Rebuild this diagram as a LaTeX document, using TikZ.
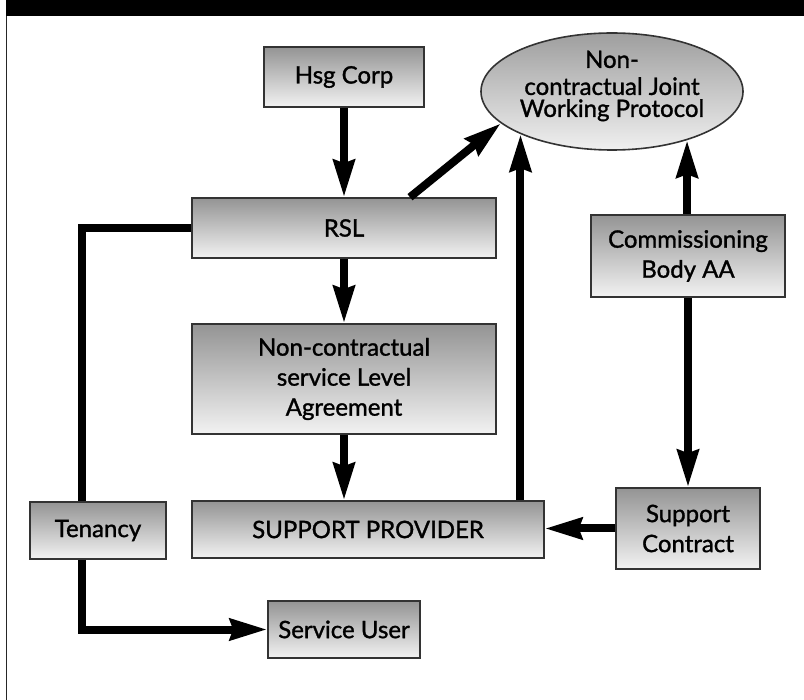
\documentclass[tikz,border=0pt]{standalone}
\usepackage{fontspec}
\setmainfont{Lato}
\newfontfamily\labelfont{Lato}[FakeBold=1.3]
\usetikzlibrary{arrows.meta,shapes.geometric}

\begin{document}
\begin{tikzpicture}[x=1pt,y=-1pt,
  txt/.style={font=\labelfont\fontsize{24}{30}\selectfont},
  box/.style={txt, draw=black!80, line width=1.6pt, top color=black!42, bottom color=black!5,
    inner sep=0pt, align=center},
  bubble/.style={ellipse, draw=black!80, line width=1.6pt, top color=black!38, bottom color=black!6,
    inner sep=0pt},
  conn/.style={line width=8pt, draw=black},
  arr/.style={conn, -{Stealth[length=37pt,width=21pt,inset=3pt]}},
]
\useasboundingbox (0,0) rectangle (804,700);

% page frame: black header band and left rule
\fill[black] (6,0) rectangle (804,16.5);
\draw[line width=1.5pt, black!85] (6.5,16) -- (6.5,700);

% boxes
\node[box, minimum width=160, minimum height=60] (hsg) at (344,77) {Hsg Corp};
\node[box, minimum width=304, minimum height=60] (rsl) at (344,228) {RSL};
\node[box, minimum width=304, minimum height=110] (sla) at (344,379) {Non-contractual\\service Level\\Agreement};
\node[box, minimum width=352, minimum height=57] (sp) at (368,529.5) {SUPPORT PROVIDER};
\node[box, minimum width=136, minimum height=57] (ten) at (98,530.5) {Tenancy};
\node[box, minimum width=152, minimum height=57] (su) at (344,629.5) {Service User};
\node[box, minimum width=144, minimum height=81] (sc) at (688,528.5) {Support\\Contract};
\node[box, minimum width=194, minimum height=82] (cb) at (688,256) {Commissioning\\Body AA};

% protocol ellipse
\node[bubble, minimum width=262, minimum height=117] (jwp) at (612,91.5) {};
\node[txt, align=center, inner sep=0pt] (jwptext) at (612,86)
  {Non-\\[-3pt]contractual Joint\\[-8pt]Working Protocol};

% connectors
\draw[arr] (hsg) -- (rsl);
\draw[arr] (rsl) -- (sla);
\draw[arr] (sla.south) -- (sla.south |- sp.north);
\draw[arr] ([xshift=66]rsl.north) -- (jwp.196);
\draw[arr] (jwp.205.27 |- sp.north) -- (jwp.205.27);
\draw[arr] (jwp.327.94 |- cb.north) -- (jwp.327.94);
\draw[arr] (cb) -- (sc);
\draw[arr] (sc.west) -- (sc.west -| sp.east);
\draw[conn] (rsl.west) -| ([xshift=-16]ten.north);
\draw[arr] ([xshift=-16]ten.south) |- (su.west);
\end{tikzpicture}
\end{document}
